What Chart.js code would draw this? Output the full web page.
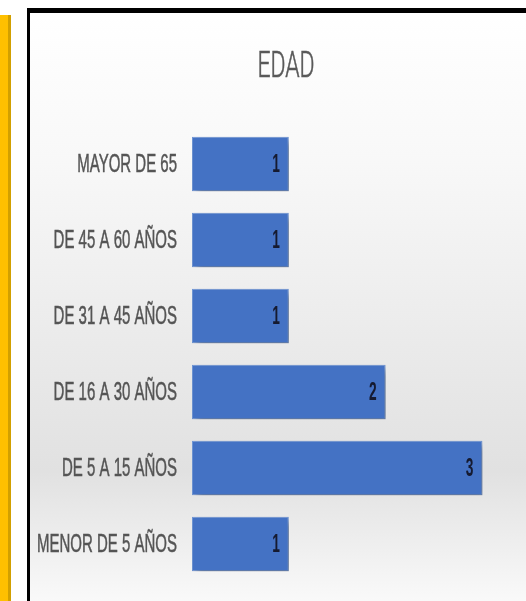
<!DOCTYPE html>
<html>
<head>
<meta charset="utf-8">
<script src="https://cdn.jsdelivr.net/npm/chart.js@4"></script>
<style>
    body { margin: 0; background: #fff; width: 526px; height: 601px; overflow: hidden; position: relative; }
    .strip { position: absolute; left: 0; top: 15px; width: 8px; height: 586px; background: #ffc000; border-right: 3px solid #d2a000; }
    .frame { position: absolute; left: 27px; top: 8px; width: 499px; height: 593px; border-left: 3px solid #000; border-top: 5px solid #000; box-sizing: border-box; }
    .frame canvas { display: block; }
</style>
</head>
<body>
<div class="strip"></div>
<div class="frame"><canvas id="edadChart" width="496" height="588"></canvas></div>
<script>
// Categories and values (Excel order: first at the bottom)
const categorias = ['MENOR DE 5 AÑOS', 'DE 5 A 15 AÑOS', 'DE 16 A 30 AÑOS', 'DE 31 A 45 AÑOS', 'DE 45 A 60 AÑOS', 'MAYOR DE 65'];
const valores = [1, 3, 2, 1, 1, 1];
const titulo = 'EDAD';

const fuente = '"Liberation Sans", Arial, sans-serif';
const estrecho = 0.6; // horizontal squeeze to mimic the condensed font

// draw text squeezed horizontally; grosor > 0 thickens the strokes a bit
function textoEstrecho(ctx, txt, x, y, align, escala, grosor) {
    ctx.save();
    ctx.translate(x, y);
    ctx.scale(escala, 1);
    ctx.textAlign = align;
    ctx.textBaseline = 'middle';
    ctx.fillText(txt, 0, 0);
    if (grosor) {
        ctx.strokeStyle = ctx.fillStyle;
        ctx.lineWidth = grosor;
        ctx.strokeText(txt, 0, 0);
    }
    ctx.restore();
}

// Background gradient behind the chart
const fondoPlugin = {
    id: 'fondo',
    beforeDraw(chart) {
        const ctx = chart.ctx;
        const g = ctx.createLinearGradient(0, 0, 0, chart.height);
        g.addColorStop(0, '#ffffff');
        g.addColorStop(0.25, '#f8f8f8');
        g.addColorStop(0.78, '#e1e1e1');
        g.addColorStop(1, '#f9f9f9');
        ctx.save();
        ctx.fillStyle = g;
        ctx.fillRect(0, 0, chart.width, chart.height);
        ctx.restore();
    }
};

// Soft shadow under the bars
const sombraPlugin = {
    id: 'sombra',
    beforeDatasetsDraw(chart) {
        const ctx = chart.ctx;
        ctx.save();
        ctx.shadowColor = 'rgba(0,0,0,0.35)';
        ctx.shadowBlur = 7;
        ctx.shadowOffsetX = 4;
        ctx.shadowOffsetY = 4;
    },
    afterDatasetsDraw(chart) {
        chart.ctx.restore();
    }
};

// Title, category labels and value labels
const textosPlugin = {
    id: 'textos',
    afterDatasetsDraw(chart) {
        const ctx = chart.ctx;
        const yScale = chart.scales.y;
        const meta = chart.getDatasetMeta(0);

        ctx.save();
        ctx.fillStyle = '#595959';
        ctx.font = '300 37px Roboto, ' + fuente;
        textoEstrecho(ctx, titulo, chart.width / 2 + 8, 55, 'center', 0.62, 0.6);

        ctx.fillStyle = '#555555';
        ctx.font = '25px ' + fuente;
        chart.data.labels.forEach((lab, i) => {
            textoEstrecho(ctx, lab, yScale.right - 15, yScale.getPixelForTick(i) + 1, 'right', estrecho, 0.5);
        });

        ctx.fillStyle = '#151a30';
        ctx.font = 'bold 25px ' + fuente;
        meta.data.forEach((bar, i) => {
            textoEstrecho(ctx, String(valores[i]), bar.x - 9, bar.y + 1, 'right', 0.55);
        });
        ctx.restore();
    }
};

const canvas = document.getElementById('edadChart');
const ctx2 = canvas.getContext('2d');

new Chart(canvas, {
    type: 'bar',
    data: {
        labels: categorias,
        datasets: [{
            data: valores,
            backgroundColor: (c) => {
                const el = c.element;
                if (!c.chart.chartArea || !el || !el.height) return '#4472c4';
                const g = ctx2.createLinearGradient(0, el.y - el.height / 2, 0, el.y + el.height / 2);
                g.addColorStop(0, '#4b79ca');
                g.addColorStop(1, '#3c65b2');
                return g;
            },
            borderColor: '#6f96d6',
            borderWidth: 1,
            borderSkipped: false,
            barPercentage: 0.72,
            categoryPercentage: 1
        }]
    },
    options: {
        indexAxis: 'y',
        responsive: false,
        animation: false,
        layout: { padding: { left: 0, right: 0, top: 113, bottom: 19 } },
        plugins: {
            legend: { display: false },
            tooltip: { enabled: false },
            title: { display: false }
        },
        scales: {
            x: {
                display: false,
                min: 0,
                max: 3.45
            },
            y: {
                reverse: true,
                grid: { display: false },
                border: { display: false },
                ticks: { display: false },
                afterFit(scale) { scale.width = 162; }
            }
        }
    },
    plugins: [fondoPlugin, sombraPlugin, textosPlugin]
});
</script>
</body>
</html>
